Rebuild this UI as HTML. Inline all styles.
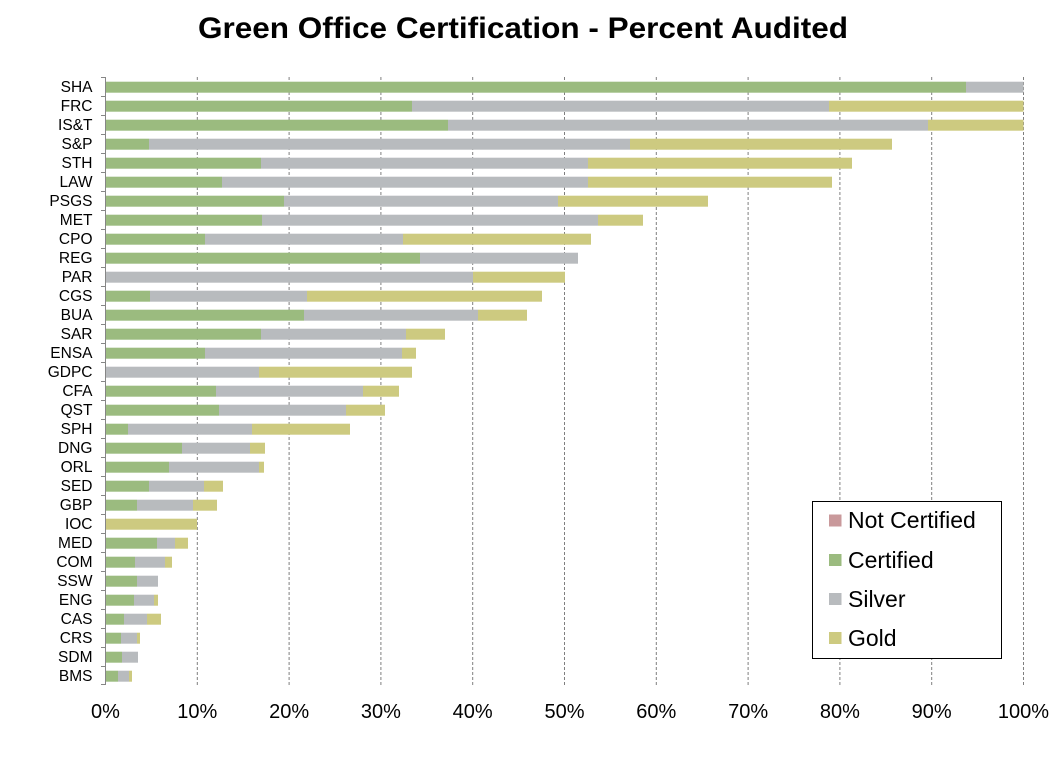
<!DOCTYPE html>
<html><head><meta charset="utf-8"><style>
html,body{margin:0;padding:0;background:#fff;}
svg{display:block;}
text{font-family:"Liberation Sans",Arial,sans-serif;fill:#000;}
</style></head><body>
<svg width="1061" height="775" viewBox="0 0 1061 775" xmlns="http://www.w3.org/2000/svg">
<rect width="1061" height="775" fill="#fff"/>
<text x="523" y="38" font-size="30" font-weight="bold" text-anchor="middle" textLength="650" lengthAdjust="spacingAndGlyphs">Green Office Certification - Percent Audited</text>
<g stroke="#7f7f7f" stroke-width="1" stroke-dasharray="3,2">
<line x1="197.3" y1="77" x2="197.3" y2="685"/><line x1="289.1" y1="77" x2="289.1" y2="685"/><line x1="380.9" y1="77" x2="380.9" y2="685"/><line x1="472.7" y1="77" x2="472.7" y2="685"/><line x1="564.5" y1="77" x2="564.5" y2="685"/><line x1="656.3" y1="77" x2="656.3" y2="685"/><line x1="748.1" y1="77" x2="748.1" y2="685"/><line x1="839.9" y1="77" x2="839.9" y2="685"/><line x1="931.7" y1="77" x2="931.7" y2="685"/><line x1="1023.5" y1="77" x2="1023.5" y2="685"/>
</g>
<g stroke="#868686" stroke-width="1">
<line x1="105.5" y1="77" x2="105.5" y2="685"/>
<line x1="101" y1="77.5" x2="105.5" y2="77.5"/><line x1="101" y1="96.5" x2="105.5" y2="96.5"/><line x1="101" y1="115.5" x2="105.5" y2="115.5"/><line x1="101" y1="134.5" x2="105.5" y2="134.5"/><line x1="101" y1="153.5" x2="105.5" y2="153.5"/><line x1="101" y1="172.5" x2="105.5" y2="172.5"/><line x1="101" y1="191.5" x2="105.5" y2="191.5"/><line x1="101" y1="210.5" x2="105.5" y2="210.5"/><line x1="101" y1="229.5" x2="105.5" y2="229.5"/><line x1="101" y1="248.5" x2="105.5" y2="248.5"/><line x1="101" y1="267.5" x2="105.5" y2="267.5"/><line x1="101" y1="286.5" x2="105.5" y2="286.5"/><line x1="101" y1="305.5" x2="105.5" y2="305.5"/><line x1="101" y1="324.5" x2="105.5" y2="324.5"/><line x1="101" y1="343.5" x2="105.5" y2="343.5"/><line x1="101" y1="362.5" x2="105.5" y2="362.5"/><line x1="101" y1="381.5" x2="105.5" y2="381.5"/><line x1="101" y1="400.5" x2="105.5" y2="400.5"/><line x1="101" y1="419.5" x2="105.5" y2="419.5"/><line x1="101" y1="438.5" x2="105.5" y2="438.5"/><line x1="101" y1="457.5" x2="105.5" y2="457.5"/><line x1="101" y1="476.5" x2="105.5" y2="476.5"/><line x1="101" y1="495.5" x2="105.5" y2="495.5"/><line x1="101" y1="514.5" x2="105.5" y2="514.5"/><line x1="101" y1="533.5" x2="105.5" y2="533.5"/><line x1="101" y1="552.5" x2="105.5" y2="552.5"/><line x1="101" y1="571.5" x2="105.5" y2="571.5"/><line x1="101" y1="590.5" x2="105.5" y2="590.5"/><line x1="101" y1="609.5" x2="105.5" y2="609.5"/><line x1="101" y1="628.5" x2="105.5" y2="628.5"/><line x1="101" y1="647.5" x2="105.5" y2="647.5"/><line x1="101" y1="666.5" x2="105.5" y2="666.5"/><line x1="101" y1="684.5" x2="105.5" y2="684.5"/>
</g>
<!-- Certified (green) -->
<g fill="#9bbb7f">
<rect x="106" y="81.7" width="860" height="11"/>
<rect x="106" y="100.7" width="306" height="11"/>
<rect x="106" y="119.7" width="342" height="11"/>
<rect x="106" y="138.7" width="43" height="11"/>
<rect x="106" y="157.7" width="155" height="11"/>
<rect x="106" y="176.7" width="116" height="11"/>
<rect x="106" y="195.7" width="178" height="11"/>
<rect x="106" y="214.7" width="156" height="11"/>
<rect x="106" y="233.7" width="99" height="11"/>
<rect x="106" y="252.7" width="314" height="11"/>
<rect x="106" y="290.7" width="44" height="11"/>
<rect x="106" y="309.7" width="198" height="11"/>
<rect x="106" y="328.7" width="155" height="11"/>
<rect x="106" y="347.7" width="99" height="11"/>
<rect x="106" y="385.7" width="110" height="11"/>
<rect x="106" y="404.7" width="113" height="11"/>
<rect x="106" y="423.7" width="22" height="11"/>
<rect x="106" y="442.7" width="76" height="11"/>
<rect x="106" y="461.7" width="63" height="11"/>
<rect x="106" y="480.7" width="43" height="11"/>
<rect x="106" y="499.7" width="31" height="11"/>
<rect x="106" y="537.7" width="51" height="11"/>
<rect x="106" y="556.7" width="29" height="11"/>
<rect x="106" y="575.7" width="31" height="11"/>
<rect x="106" y="594.7" width="28" height="11"/>
<rect x="106" y="613.7" width="18" height="11"/>
<rect x="106" y="632.7" width="15" height="11"/>
<rect x="106" y="651.7" width="16" height="11"/>
<rect x="106" y="670.7" width="12" height="11"/>
</g>
<!-- Silver -->
<g fill="#b8bbbe">
<rect x="966" y="81.7" width="57.5" height="11"/>
<rect x="412" y="100.7" width="417" height="11"/>
<rect x="448" y="119.7" width="480" height="11"/>
<rect x="149" y="138.7" width="481" height="11"/>
<rect x="261" y="157.7" width="327" height="11"/>
<rect x="222" y="176.7" width="366" height="11"/>
<rect x="284" y="195.7" width="274" height="11"/>
<rect x="262" y="214.7" width="336" height="11"/>
<rect x="205" y="233.7" width="198" height="11"/>
<rect x="420" y="252.7" width="158" height="11"/>
<rect x="106" y="271.7" width="367" height="11"/>
<rect x="150" y="290.7" width="157" height="11"/>
<rect x="304" y="309.7" width="174" height="11"/>
<rect x="261" y="328.7" width="145" height="11"/>
<rect x="205" y="347.7" width="197" height="11"/>
<rect x="106" y="366.7" width="153" height="11"/>
<rect x="216" y="385.7" width="147" height="11"/>
<rect x="219" y="404.7" width="127" height="11"/>
<rect x="128" y="423.7" width="124" height="11"/>
<rect x="182" y="442.7" width="68" height="11"/>
<rect x="169" y="461.7" width="90" height="11"/>
<rect x="149" y="480.7" width="55" height="11"/>
<rect x="137" y="499.7" width="56" height="11"/>
<rect x="157" y="537.7" width="18" height="11"/>
<rect x="135" y="556.7" width="30" height="11"/>
<rect x="137" y="575.7" width="21" height="11"/>
<rect x="134" y="594.7" width="20" height="11"/>
<rect x="124" y="613.7" width="23" height="11"/>
<rect x="121" y="632.7" width="16" height="11"/>
<rect x="122" y="651.7" width="16" height="11"/>
<rect x="118" y="670.7" width="11" height="11"/>
</g>
<!-- Gold -->
<g fill="#cdca80">
<rect x="829" y="100.7" width="194.5" height="11"/>
<rect x="928" y="119.7" width="95.5" height="11"/>
<rect x="630" y="138.7" width="262" height="11"/>
<rect x="588" y="157.7" width="264" height="11"/>
<rect x="588" y="176.7" width="244" height="11"/>
<rect x="558" y="195.7" width="150" height="11"/>
<rect x="598" y="214.7" width="45" height="11"/>
<rect x="403" y="233.7" width="188" height="11"/>
<rect x="473" y="271.7" width="92" height="11"/>
<rect x="307" y="290.7" width="235" height="11"/>
<rect x="478" y="309.7" width="49" height="11"/>
<rect x="406" y="328.7" width="39" height="11"/>
<rect x="402" y="347.7" width="14" height="11"/>
<rect x="259" y="366.7" width="153" height="11"/>
<rect x="363" y="385.7" width="36" height="11"/>
<rect x="346" y="404.7" width="39" height="11"/>
<rect x="252" y="423.7" width="98" height="11"/>
<rect x="250" y="442.7" width="15" height="11"/>
<rect x="259" y="461.7" width="5" height="11"/>
<rect x="204" y="480.7" width="19" height="11"/>
<rect x="193" y="499.7" width="24" height="11"/>
<rect x="106" y="518.7" width="91" height="11"/>
<rect x="175" y="537.7" width="13" height="11"/>
<rect x="165" y="556.7" width="7" height="11"/>
<rect x="154" y="594.7" width="4" height="11"/>
<rect x="147" y="613.7" width="14" height="11"/>
<rect x="137" y="632.7" width="3" height="11"/>
<rect x="129" y="670.7" width="3" height="11"/>
</g>
<!-- Category labels -->
<g font-size="15.5" text-anchor="end">
<text x="92.5" y="92">SHA</text>
<text x="92.5" y="111">FRC</text>
<text x="92.5" y="130">IS&amp;T</text>
<text x="92.5" y="149">S&amp;P</text>
<text x="92.5" y="168">STH</text>
<text x="92.5" y="187">LAW</text>
<text x="92.5" y="206">PSGS</text>
<text x="92.5" y="225">MET</text>
<text x="92.5" y="244">CPO</text>
<text x="92.5" y="263">REG</text>
<text x="92.5" y="282">PAR</text>
<text x="92.5" y="301">CGS</text>
<text x="92.5" y="320">BUA</text>
<text x="92.5" y="339">SAR</text>
<text x="92.5" y="358">ENSA</text>
<text x="92.5" y="377">GDPC</text>
<text x="92.5" y="396">CFA</text>
<text x="92.5" y="415">QST</text>
<text x="92.5" y="434">SPH</text>
<text x="92.5" y="453">DNG</text>
<text x="92.5" y="472">ORL</text>
<text x="92.5" y="491">SED</text>
<text x="92.5" y="510">GBP</text>
<text x="92.5" y="529">IOC</text>
<text x="92.5" y="548">MED</text>
<text x="92.5" y="567">COM</text>
<text x="92.5" y="586">SSW</text>
<text x="92.5" y="605">ENG</text>
<text x="92.5" y="624">CAS</text>
<text x="92.5" y="643">CRS</text>
<text x="92.5" y="662">SDM</text>
<text x="92.5" y="681">BMS</text>
</g>
<!-- X labels -->
<g font-size="20" text-anchor="middle">
<text x="105.5" y="718">0%</text>
<text x="197.3" y="718">10%</text>
<text x="289.1" y="718">20%</text>
<text x="380.9" y="718">30%</text>
<text x="472.7" y="718">40%</text>
<text x="564.5" y="718">50%</text>
<text x="656.3" y="718">60%</text>
<text x="748.1" y="718">70%</text>
<text x="839.9" y="718">80%</text>
<text x="931.7" y="718">90%</text>
<text x="1023.5" y="718">100%</text>
</g>
<!-- Legend -->
<rect x="812.5" y="501.5" width="189" height="157" fill="#fff" stroke="#000" stroke-width="1"/>
<rect x="829" y="514.5" width="12.5" height="12" fill="#c9999b"/>
<rect x="829" y="554" width="12.5" height="12" fill="#9bbb7f"/>
<rect x="829" y="593" width="12.5" height="12" fill="#b8bbbe"/>
<rect x="829" y="632" width="12.5" height="12" fill="#cdca80"/>
<g font-size="23">
<text x="848" y="528">Not Certified</text>
<text x="848" y="568">Certified</text>
<text x="848" y="607">Silver</text>
<text x="848" y="646">Gold</text>
</g>
</svg>
</body></html>
